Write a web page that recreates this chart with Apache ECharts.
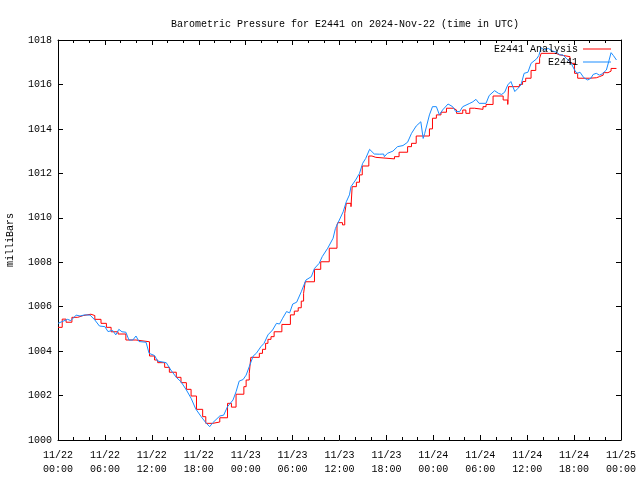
<!DOCTYPE html>
<html>
<head>
<meta charset="utf-8">
<script src="https://cdn.jsdelivr.net/npm/echarts@6/dist/echarts.min.js"></script>
<style>html,body{margin:0;padding:0;background:#fff;}#c{width:640px;height:480px;}</style>
</head>
<body>
<div id="c"></div>
<script>
// Hours since 2024-11-22 00:00 UTC
const xTickLabels = ['11/22\n00:00','11/22\n06:00','11/22\n12:00','11/22\n18:00','11/23\n00:00','11/23\n06:00','11/23\n12:00','11/23\n18:00','11/24\n00:00','11/24\n06:00','11/24\n12:00','11/24\n18:00','11/25\n00:00'];
const yTicks = [1000, 1002, 1004, 1006, 1008, 1010, 1012, 1014, 1016, 1018];

// E2441 Analysis (red, stepped)
const anaHours = [0,0.54,1.03,1.78,2.52,3.22,4.21,4.71,5.5,6.19,6.79,7.68,8.68,9.97,11.7,12.35,12.75,13.64,14.24,15.13,15.73,16.42,17.02,17.71,18.5,18.9,19.8,20.69,21.68,22.18,22.77,23.77,24.06,24.46,24.66,25.75,26.15,26.55,26.85,27.24,27.64,28.63,29.72,30.22,30.72,31.11,31.41,31.61,32.8,33.6,34.69,35.68,35.78,36.38,36.67,36.87,37.47,37.62,38.16,38.56,38.91,39.75,40.15,40.64,43.03,43.62,44.71,45.21,45.81,47.5,47.89,48.39,48.98,49.68,50.57,50.97,51.76,52.16,52.66,53.25,54.35,54.74,55.64,56.93,57.52,57.62,59.01,59.41,59.81,60.5,61.1,61.59,61.79,63.68,64.17,65.47,66.06,66.46,67.95,68.84,69.24,69.73,70.33,70.73,71.42];
const anaValues = [1005.07,1005.44,1005.30,1005.52,1005.60,1005.66,1005.60,1005.43,1005.25,1005.07,1004.87,1004.77,1004.50,1004.42,1003.78,1003.60,1003.48,1003.27,1003.05,1002.82,1002.58,1002.28,1001.98,1001.38,1001.05,1000.75,1000.81,1001.00,1001.65,1001.48,1002.06,1002.40,1002.70,1003.00,1003.72,1003.90,1004.08,1004.35,1004.53,1004.65,1004.87,1005.20,1005.63,1005.80,1005.95,1006.25,1006.60,1007.12,1007.68,1008.02,1008.63,1009.68,1009.78,1009.68,1010.20,1010.65,1010.50,1011.40,1011.60,1011.93,1012.33,1012.78,1012.72,1012.65,1012.75,1012.95,1013.20,1013.35,1013.68,1014.00,1014.48,1014.63,1014.75,1014.93,1014.85,1014.70,1014.85,1014.70,1014.93,1014.88,1015.00,1015.10,1015.48,1015.30,1015.10,1015.90,1016.00,1016.13,1016.28,1016.63,1016.95,1017.18,1017.40,1017.33,1017.25,1016.95,1016.50,1016.28,1016.30,1016.35,1016.42,1016.53,1016.60,1016.72,1016.72];

// E2441 observations (blue)
const obsHours = [0,0.54,1.23,1.63,2.32,2.82,3.41,4.11,4.71,5.3,6.0,6.39,6.59,6.99,7.39,7.78,8.18,8.68,9.07,9.57,9.97,10.17,10.36,11.26,11.65,12.35,12.75,13.84,14.43,15.13,15.73,16.42,17.02,17.61,18.31,18.9,19.4,19.8,20.69,21.19,21.68,22.38,22.77,23.17,23.67,24.06,24.46,24.96,25.36,25.95,26.35,26.85,27.44,27.94,28.33,28.73,29.23,29.62,30.02,30.52,31.11,31.71,32.4,32.8,33.4,33.79,34.49,35.18,35.48,35.98,36.47,36.87,37.27,37.47,38.06,38.56,38.96,39.35,39.85,40.45,41.14,41.64,41.74,42.13,42.83,43.42,43.62,44.12,44.71,45.21,45.81,46.4,46.7,46.9,47.5,47.89,48.39,48.78,49.18,49.88,50.47,50.87,51.37,51.76,52.66,53.06,53.45,53.85,54.74,55.14,55.83,56.33,56.73,57.12,57.52,57.92,58.42,58.81,59.21,59.61,60.1,60.5,61.2,61.49,61.79,62.19,62.69,63.28,63.78,64.17,64.57,65.07,65.56,66.06,66.36,66.76,67.25,67.75,68.15,68.44,68.84,69.24,69.63,70.13,70.43,70.73,71.03,71.42];
const obsValues = [1005.25,1005.33,1005.43,1005.37,1005.62,1005.58,1005.63,1005.62,1005.40,1005.13,1005.10,1004.88,1004.82,1004.93,1004.73,1004.98,1004.87,1004.85,1004.50,1004.50,1004.68,1004.70,1004.43,1004.40,1003.90,1003.80,1003.55,1003.48,1003.15,1002.82,1002.62,1002.25,1001.88,1001.40,1001.05,1000.78,1000.60,1000.78,1001.08,1001.12,1001.50,1001.80,1002.17,1002.65,1002.72,1002.92,1003.30,1003.78,1003.90,1004.20,1004.35,1004.73,1004.95,1005.25,1005.22,1005.48,1005.78,1005.72,1006.12,1006.20,1006.67,1007.20,1007.35,1007.72,1007.95,1008.25,1008.63,1009.08,1009.52,1009.90,1010.27,1010.72,1011.03,1011.40,1011.70,1012.00,1012.45,1012.67,1013.08,1012.87,1012.86,1012.87,1012.75,1012.90,1013.00,1013.20,1013.28,1013.25,1013.40,1013.80,1014.13,1014.32,1013.57,1013.80,1014.63,1015.00,1015.00,1014.63,1014.85,1015.12,1015.00,1014.78,1014.78,1015.00,1015.15,1015.22,1015.33,1015.15,1015.15,1015.50,1015.72,1015.60,1015.55,1015.65,1015.98,1016.13,1015.68,1015.82,1015.98,1016.50,1016.55,1016.95,1017.15,1017.30,1017.65,1017.55,1017.62,1017.50,1017.45,1017.33,1017.33,1017.15,1017.00,1016.65,1016.50,1016.55,1016.30,1016.20,1016.28,1016.45,1016.50,1016.42,1016.48,1016.65,1017.03,1017.43,1017.30,1017.10];

const FONT = 'Liberation Mono';
const anaData = anaHours.map((h, i) => [h, anaValues[i]]);
const obsData = obsHours.map((h, i) => [h, obsValues[i]]);

const xBase = {
  type: 'value', min: 0, max: 72, interval: 6,
  axisLine: { show: true, onZero: false, lineStyle: { color: '#000', width: 1 } },
  axisTick: { show: true, inside: true, length: 5, lineStyle: { color: '#000' } },
  minorTick: { show: true, splitNumber: 3, length: 3, lineStyle: { color: '#000' } },
  splitLine: { show: false }
};
const yBase = {
  type: 'value', min: yTicks[0], max: yTicks[yTicks.length - 1], interval: yTicks[1] - yTicks[0],
  axisLine: { show: true, onZero: false, lineStyle: { color: '#000', width: 1 } },
  axisTick: { show: true, inside: true, length: 5, lineStyle: { color: '#000' } },
  splitLine: { show: false }
};

const chart = echarts.init(document.getElementById('c'), null, { renderer: 'canvas' });
chart.setOption({
  animation: false,
  backgroundColor: '#fff',
  title: {
    text: 'Barometric Pressure for E2441 on 2024-Nov-22 (time in UTC)',
    left: 340, top: 14, textAlign: 'center',
    textStyle: { fontFamily: FONT, fontSize: 10, fontWeight: 'normal', color: '#000' }
  },
  legend: {
    orient: 'vertical', align: 'right', right: 29, top: 43, padding: 0,
    itemWidth: 28, itemHeight: 1, itemGap: 1, icon: 'rect',
    textStyle: { fontFamily: FONT, fontSize: 10, color: '#000', lineHeight: 12 },
    data: ['E2441 Analysis', 'E2441']
  },
  grid: { left: 58, right: 19, top: 40, bottom: 40, containLabel: false, outerBoundsMode: 'none' },
  xAxis: [
    Object.assign({}, xBase, {
      position: 'bottom',
      axisLabel: {
        margin: 8, fontFamily: FONT, fontSize: 10, color: '#000', lineHeight: 14,
        formatter: v => xTickLabels[Math.round(v / 6)]
      }
    }),
    Object.assign({}, xBase, { position: 'top', axisLabel: { show: false } })
  ],
  yAxis: [
    Object.assign({}, yBase, {
      position: 'left',
      name: 'milliBars', nameLocation: 'middle', nameGap: 43, nameRotate: 90,
      nameTextStyle: { fontFamily: FONT, fontSize: 10, color: '#000' },
      axisLabel: { margin: 6, fontFamily: FONT, fontSize: 10, color: '#000', formatter: v => String(v) }
    }),
    Object.assign({}, yBase, { position: 'right', axisLabel: { show: false } })
  ],
  series: [
    {
      name: 'E2441 Analysis', type: 'line', step: 'end', data: anaData,
      symbol: 'none', lineStyle: { color: '#ff0000', width: 1 }, itemStyle: { color: '#ff0000' }
    },
    {
      name: 'E2441', type: 'line', data: obsData,
      symbol: 'none', lineStyle: { color: '#1a8cff', width: 1 }, itemStyle: { color: '#1a8cff' }
    }
  ]
});
</script>
</body>
</html>
